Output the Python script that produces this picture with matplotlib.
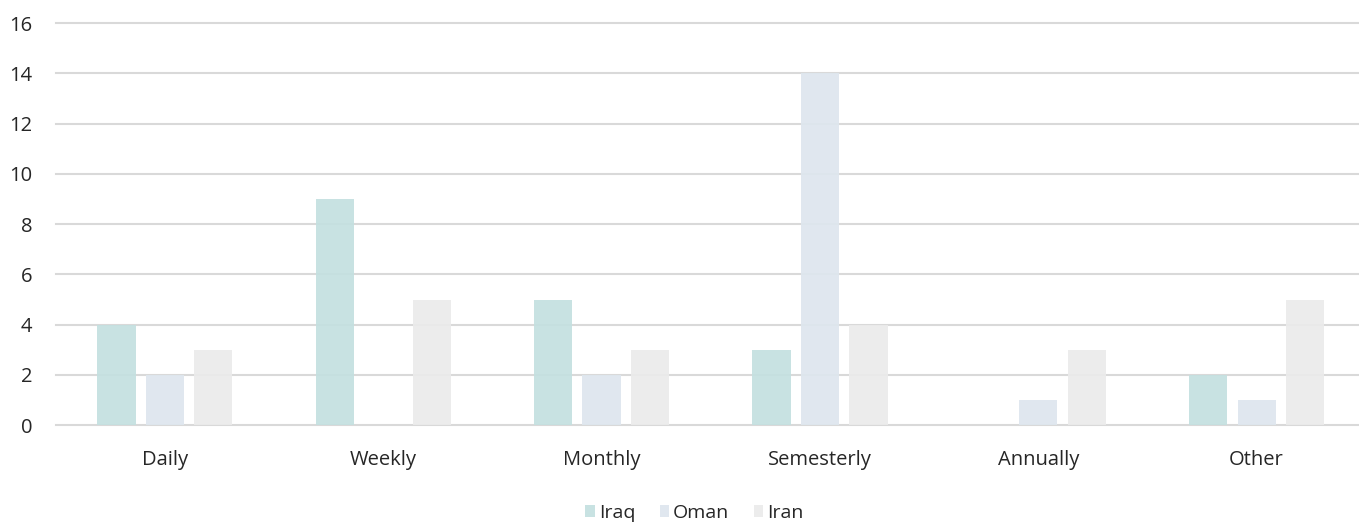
import matplotlib
matplotlib.use("Agg")
import matplotlib.pyplot as plt
import numpy as np

categories = ["Daily", "Weekly", "Monthly", "Semesterly", "Annually", "Other"]
iraq = [4, 9, 5, 3, 0, 2]
oman = [2, 0, 2, 14, 1, 1]
iran = [3, 5, 3, 4, 3, 5]
series_names = ["Iraq", "Oman", "Iran"]
colors = ["#c4e0e0", "#dee6ee", "#ebebeb"]

plt.rcParams["font.family"] = ["Open Sans", "DejaVu Sans"]

fig = plt.figure(figsize=(13.59, 5.25), dpi=100)
ax = fig.add_axes([0.041, 0.19, 0.964, 0.766])

x = np.arange(len(categories))
width = 0.175
step = 0.222
for i, (vals, name, c) in enumerate(zip([iraq, oman, iran], series_names, colors)):
    ax.bar(x + (i - 1) * step, vals, width, color=c, label=name, zorder=2, alpha=0.93)

ax.set_xlim(-0.5, len(categories) - 0.5)
ax.set_ylim(0, 16)
ax.set_yticks(range(0, 17, 2))
ax.set_xticks(x)
ax.set_xticklabels(categories)
ax.yaxis.grid(True, color="#d9d9d9", linewidth=1.5, zorder=1)
for gl in ax.get_ygridlines():
    gl.set_clip_on(False)
ax.set_axisbelow(True)
for s in ax.spines.values():
    s.set_visible(False)
ax.tick_params(axis="both", length=0, labelsize=14.5, colors="#262626")
ax.tick_params(axis="x", pad=18)
ax.tick_params(axis="y", pad=17)

fig.legend(loc="lower center", bbox_to_anchor=(0.511, -0.027), ncol=3, frameon=False,
           fontsize=14, handlelength=0.5, handleheight=0.55, handletextpad=0.2,
           columnspacing=1.25, labelcolor="#262626")

fig.savefig("out.png", dpi=100)
